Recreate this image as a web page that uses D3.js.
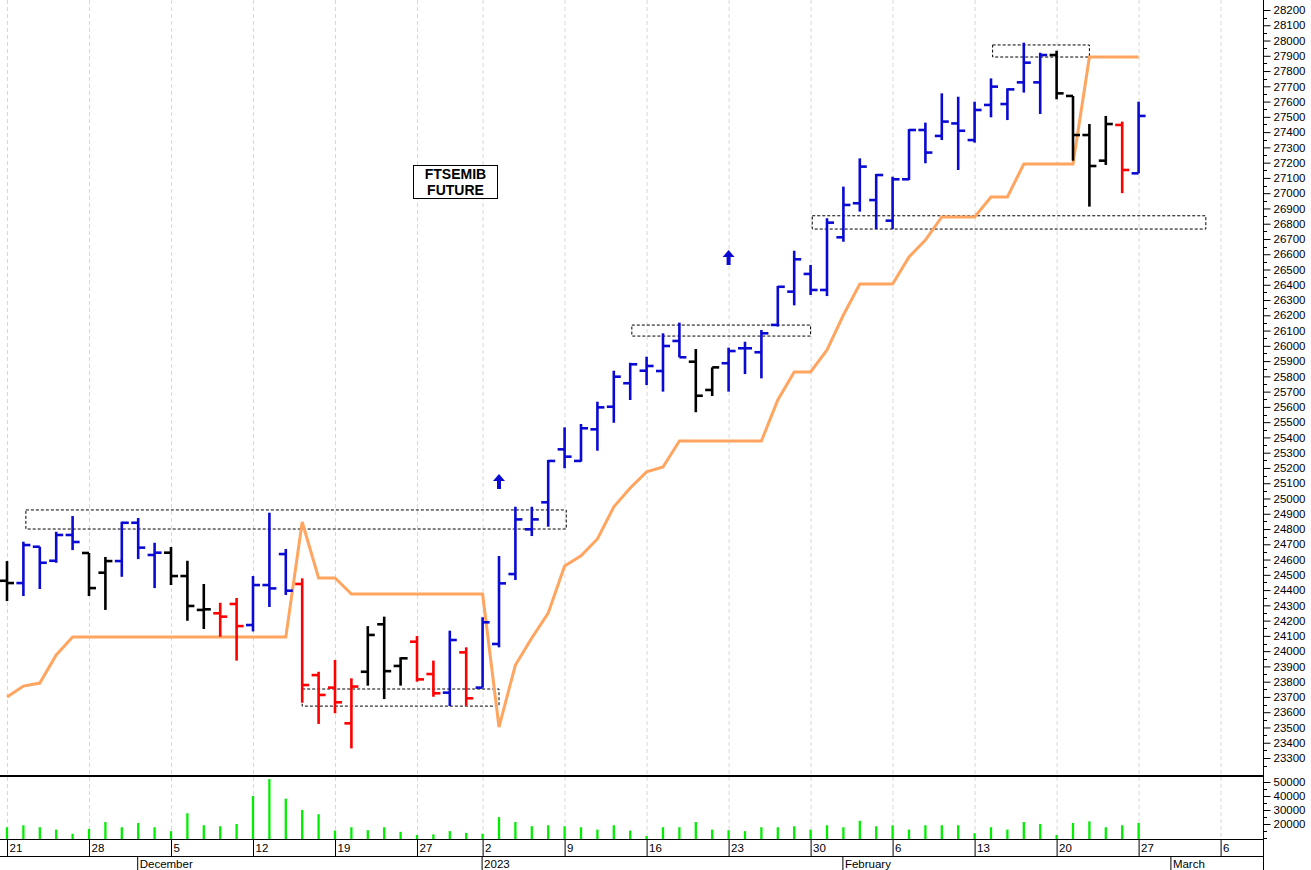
<!DOCTYPE html>
<html><head><meta charset="utf-8">
<script src="https://cdn.jsdelivr.net/npm/d3@7"></script>
<style>body{margin:0;background:#fff}text{font-family:"Liberation Sans",Arial,sans-serif}</style>
</head><body><svg id="c" width="1311" height="870"></svg>
<script>
const dayLabels = ["21","22","23","24","25","28","29","30","1","2","5","6","7","8","9","12","13","14","15","16","19","20","21","22","23","27","28","29","30","2","3","4","5","6","9","10","11","12","13","16","17","18","19","20","23","24","25","26","27","30","31","1","2","3","6","7","8","9","10","13","14","15","16","17","20","21","22","23","24","27"];
const open  = [24461,24446,24684,24592,24761,24643,24514,24590,24841,24630,24645,24492,24270,24248,24309,24171,24433,24636,24440,23843,23761,23527,23865,24176,23903,24062,23850,23728,23992,23761,24047,24505,24798,24975,25322,25246,25453,25601,25755,25837,25835,26032,25896,25711,25886,25984,25958,26137,26355,26471,26366,26711,26934,26955,26820,27091,27414,27375,27457,27348,27578,27584,27726,27726,27905,27637,27381,27213,27447,27130];
const high  = [24590,24717,24684,24782,24885,24643,24617,24848,24872,24710,24682,24592,24440,24317,24348,24492,24907,24669,24477,23865,23942,23822,24164,24226,23960,24099,23938,24134,24025,24222,24623,24946,24946,25252,25466,25488,25634,25837,25889,25929,26082,26152,25979,25859,25988,26027,26104,26392,26623,26530,26836,27043,27228,27126,27108,27420,27462,27654,27632,27599,27752,27687,27986,27920,27933,27637,27453,27506,27469,27599];
const low   = [24328,24361,24407,24579,24662,24361,24270,24487,24603,24413,24433,24199,24145,24095,23938,24129,24289,24368,23662,23523,23593,23363,23774,23686,23774,23800,23701,23640,23642,23761,24025,24466,24754,24815,25198,25241,25313,25496,25645,25743,25700,25925,25565,25671,25700,25815,25787,26126,26265,26333,26326,26682,26879,26765,26765,27086,27196,27348,27152,27331,27497,27479,27659,27519,27615,27213,26912,27185,27000,27130];
const close = [24446,24695,24579,24761,24715,24413,24590,24841,24678,24645,24492,24296,24274,24226,24164,24433,24411,24396,23778,23713,23665,23768,24106,23869,23953,23815,23724,24073,23691,24189,24444,24863,24863,25246,25274,25460,25597,25798,25879,25868,25999,25925,25673,25859,25966,25984,26082,26387,26567,26366,26807,26923,27174,27119,27091,27414,27266,27469,27409,27545,27698,27680,27855,27905,27654,27381,27178,27453,27152,27506];
const barColor = ["K","B","B","B","B","K","K","B","B","B", "K","K","K","R","R","B","B","B","R","R", "R","R","K","K","K","R","R","B","R","B", "B","B","B","B","B","B","B","B","B","B", "B","B","K","K","B","B","B","B","B","B", "B","B","B","B","B","B","B","B","B","B", "B","B","B","B","K","K","K","K","R","B"];
const stopLine = [23700,23771,23791,23975,24092,24092,24092,24092,24092,24092,24092,24092,24092,24092,24092,24092,24092,24092,24846,24479,24479,24374,24374,24374,24374,24374,24374,24374,24374,24374,23503,23909,24086,24250,24558,24624,24735,24945,25069,25174,25206,25377,25377,25377,25377,25377,25377,25645,25829,25829,25973,26202,26405,26405,26405,26582,26693,26844,26844,26844,26975,26975,27191,27191,27191,27191,27892,27892,27892,27892];
const volume = [17700,19100,17700,16000,13000,16500,21400,17700,20700,17700,14900,27700,19100,18400,20000,40000,52100,38100,30000,27000,15300,17700,15600,17700,14400,12100,12600,14900,13700,13000,24900,21400,18400,19100,18400,17700,16000,19100,15300,11400,17700,17700,21400,16000,15600,14900,17700,17700,18400,16000,19100,17700,22300,18400,19100,16000,19100,19100,19100,13400,17700,16000,21400,20000,12100,20700,21900,17700,19100,20700];
const boxes = [[1.15,34.1,24800,24925],[18,30,23640,23752],[38.1,49,26064,26136],[49.1,73.1,26765,26852],[60.1,66,27892,27971]];
const arrows = [[30,25108],[44,26575]];
const weekTicks = [[0,"21"],[5,"28"],[10,"5"],[15,"12"],[20,"19"],[25,"27"],[29,"2"],[34,"9"],[39,"16"],[44,"23"],[49,"30"],[54,"6"],[59,"13"],[64,"20"],[69,"27"],[74,"6"]];
const monthTicks = [[8,"December"],[29,"2023"],[51,"February"],[71,"March"]];
const priceTicks = d3.range(23300, 28201, 100);
const volTicks = [20000,30000,40000,50000];

const svg = d3.select("#c");
const x = d3.scaleLinear().domain([0,69]).range([7,1138.6]);
const y = d3.scaleLinear().domain([23300,28200]).range([758,10]);
const yv = d3.scaleLinear().domain([20000,50000]).range([824,782]);
const col = {B:"#0a0ad2",K:"#000",R:"#ff0000"};
const plotR = 1263;

svg.append("g").selectAll("line").data(weekTicks).join("line")
  .attr("x1",d=>x(d[0])+0.5).attr("x2",d=>x(d[0])+0.5).attr("y1",0).attr("y2",839)
  .attr("stroke","#d8d8d8").attr("stroke-dasharray","4,3");

svg.append("g").selectAll("rect").data(boxes).join("rect")
  .attr("x",d=>x(d[0])).attr("width",d=>x(d[1])-x(d[0]))
  .attr("y",d=>y(d[3])).attr("height",d=>y(d[2])-y(d[3]))
  .attr("fill","none").attr("stroke","#000").attr("stroke-dasharray","3,2");

svg.append("path").datum(stopLine)
  .attr("d",d3.line().x((d,i)=>x(i)).y(d=>y(d)))
  .attr("fill","none").attr("stroke","#ffa560").attr("stroke-width",3);

const g = svg.append("g");
open.forEach((o,i)=>{
  const c = col[barColor[i]], cx = x(i);
  g.append("line").attr("x1",cx).attr("x2",cx).attr("y1",y(high[i])).attr("y2",y(low[i])).attr("stroke",c).attr("stroke-width",2.6);
  g.append("line").attr("x1",cx-7).attr("x2",cx).attr("y1",y(o)).attr("y2",y(o)).attr("stroke",c).attr("stroke-width",2.6);
  g.append("line").attr("x1",cx).attr("x2",cx+7).attr("y1",y(close[i])).attr("y2",y(close[i])).attr("stroke",c).attr("stroke-width",2.6);
});

arrows.forEach(a=>{
  const cx=x(a[0]), cy=y(a[1]);
  svg.append("path").attr("d",`M${cx},${cy-8} L${cx+6},${cy-1} L${cx+2},${cy-1} L${cx+2},${cy+7} L${cx-2},${cy+7} L${cx-2},${cy-1} L${cx-6},${cy-1} Z`).attr("fill","#0a0ad2");
});

svg.append("rect").attr("x",413.5).attr("y",165.5).attr("width",84).attr("height",33).attr("fill","#fff").attr("stroke","#000");
svg.append("text").attr("x",455.5).attr("y",179).attr("text-anchor","middle").attr("font-size",14).attr("font-weight","bold").text("FTSEMIB");
svg.append("text").attr("x",455.5).attr("y",195).attr("text-anchor","middle").attr("font-size",14).attr("font-weight","bold").text("FUTURE");

svg.append("g").selectAll("line").data(volume).join("line")
  .attr("x1",(d,i)=>x(i)).attr("x2",(d,i)=>x(i)).attr("y1",d=>yv(d)).attr("y2",839)
  .attr("stroke","#00ee00").attr("stroke-width",2.3);

svg.append("line").attr("x1",0).attr("x2",plotR).attr("y1",776).attr("y2",776).attr("stroke","#000").attr("stroke-width",2);
svg.append("line").attr("x1",0).attr("x2",plotR).attr("y1",839.5).attr("y2",839.5).attr("stroke","#000");
svg.append("line").attr("x1",0).attr("x2",plotR).attr("y1",856.5).attr("y2",856.5).attr("stroke","#000");
svg.append("line").attr("x1",plotR+0.5).attr("x2",plotR+0.5).attr("y1",0).attr("y2",870).attr("stroke","#000");

// minor ticks
svg.append("g").selectAll("line").data(d3.range(23250,28201,100)).join("line")
  .attr("x1",plotR).attr("x2",plotR+4).attr("y1",d=>Math.round(y(d))+0.5).attr("y2",d=>Math.round(y(d))+0.5).attr("stroke","#000");
svg.append("g").selectAll("line").data([10000,15000,25000,35000,45000]).join("line")
  .attr("x1",plotR).attr("x2",plotR+4).attr("y1",d=>Math.round(yv(d))+0.5).attr("y2",d=>Math.round(yv(d))+0.5).attr("stroke","#000");

const pa = svg.append("g").attr("transform",`translate(${plotR+0.5},0)`).call(d3.axisRight(y).tickValues(priceTicks).tickSize(7).tickFormat(d3.format("d")));
pa.select(".domain").remove();
pa.selectAll("text").attr("font-size",11.5).attr("font-family","Liberation Sans").attr("x",10).attr("fill","#000");
const va = svg.append("g").attr("transform",`translate(${plotR+0.5},0)`).call(d3.axisRight(yv).tickValues(volTicks).tickSize(7).tickFormat(d3.format("d")));
va.select(".domain").remove();
va.selectAll("text").attr("font-size",11.5).attr("font-family","Liberation Sans").attr("x",10).attr("fill","#000");

const da = svg.append("g");
weekTicks.forEach(t=>{
  const tx = x(t[0])+0.5;
  da.append("line").attr("x1",tx).attr("x2",tx).attr("y1",839).attr("y2",856).attr("stroke","#000");
  da.append("text").attr("x",tx+2).attr("y",852).attr("font-size",11.5).text(t[1]);
});
monthTicks.forEach(t=>{
  const tx = x(t[0])-0.5;
  da.append("line").attr("x1",tx).attr("x2",tx).attr("y1",856).attr("y2",870).attr("stroke","#000");
  da.append("text").attr("x",tx+2).attr("y",868).attr("font-size",11.5).text(t[1]);
});
</script></body></html>
